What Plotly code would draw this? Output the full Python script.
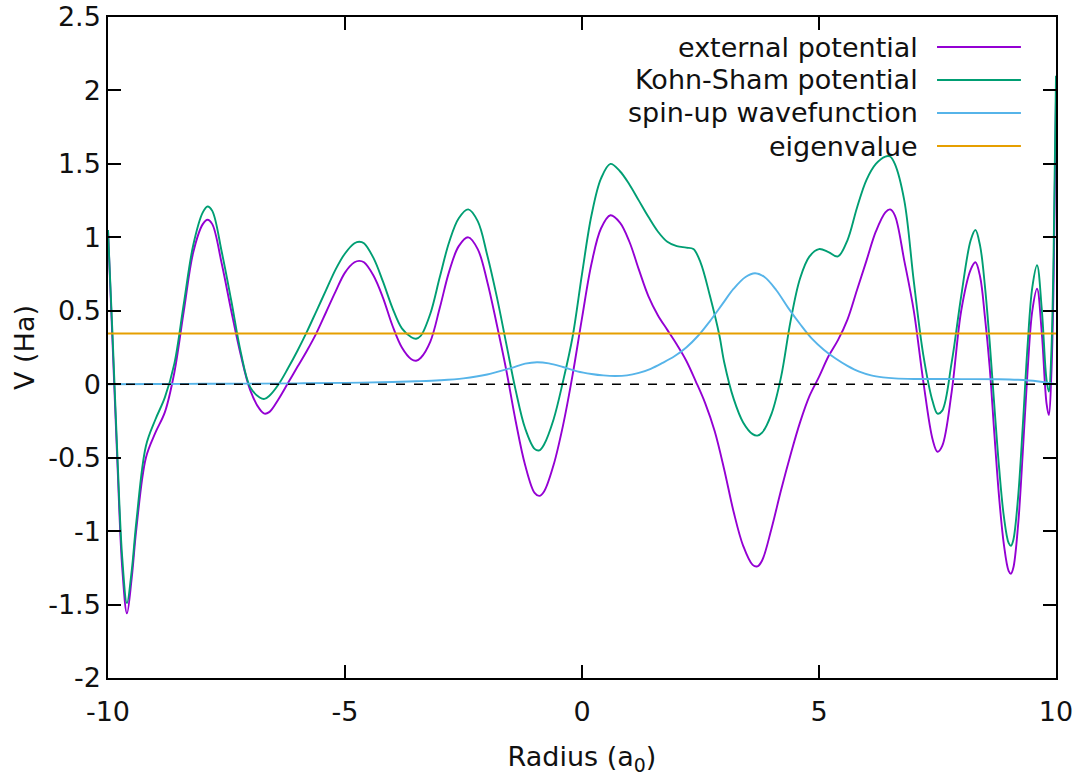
import plotly.graph_objects as go

# ---------------- data ----------------
x_ext = [-10, -9.9, -9.8, -9.7, -9.6, -9.5, -9.4, -9.2, -9.0, -8.8, -8.6, -8.4, -8.2, -8.0, -7.9, -7.8,
         -7.6, -7.4, -7.2, -7.0, -6.8, -6.7, -6.6, -6.4, -6.2, -6.0, -5.8, -5.6, -5.4, -5.2, -5.0, -4.8,
         -4.7, -4.6, -4.4, -4.2, -4.0, -3.8, -3.6, -3.5, -3.4, -3.2, -3.0, -2.8, -2.6, -2.4, -2.2, -2.0,
         -1.8, -1.6, -1.4, -1.2, -1.0, -0.9, -0.8, -0.6, -0.4, -0.2, 0.0, 0.2, 0.4, 0.6, 0.8, 1.0, 1.2,
         1.4, 1.6, 1.8, 2.0, 2.2, 2.4, 2.6, 2.8, 3.0, 3.2, 3.4, 3.6, 3.7, 3.8, 4.0, 4.2, 4.4, 4.6, 4.8,
         5.0, 5.2, 5.4, 5.6, 5.8, 6.0, 6.2, 6.4, 6.5, 6.6, 6.8, 7.0, 7.2, 7.4, 7.5, 7.6, 7.8, 8.0, 8.2,
         8.3, 8.4, 8.5, 8.6, 8.7, 8.8, 8.9, 9.0, 9.05, 9.1, 9.2, 9.3, 9.4, 9.5, 9.6, 9.7, 9.8, 9.85,
         9.9, 9.95, 10]
v_ext = [1.05, 0.25, -0.55, -1.25, -1.56, -1.32, -0.98, -0.5, -0.33, -0.19, 0.08, 0.5, 0.9, 1.09, 1.12, 1.09,
         0.82, 0.5, 0.2, -0.04, -0.17, -0.2, -0.19, -0.1, 0.01, 0.12, 0.23, 0.35, 0.49, 0.63, 0.76, 0.83,
         0.84, 0.83, 0.74, 0.59, 0.4, 0.25, 0.17, 0.16, 0.18, 0.29, 0.52, 0.77, 0.94, 1.0, 0.92, 0.7,
         0.41, 0.1, -0.25, -0.55, -0.74, -0.76, -0.73, -0.55, -0.28, 0.06, 0.45, 0.82, 1.06, 1.15, 1.1, 0.97, 0.78,
         0.6, 0.47, 0.37, 0.27, 0.16, 0.02, -0.13, -0.32, -0.58, -0.87, -1.1, -1.23, -1.24, -1.2, -0.98, -0.72, -0.48, -0.26, -0.08,
         0.05, 0.19, 0.3, 0.44, 0.64, 0.84, 1.04, 1.17, 1.19, 1.15, 0.84, 0.5, 0.02, -0.38, -0.46, -0.42, -0.05, 0.5, 0.78,
         0.83, 0.73, 0.46, 0.12, -0.34, -0.77, -1.09, -1.27, -1.29, -1.25, -0.96, -0.46, 0.09, 0.5, 0.65, 0.35, -0.13, -0.21,
         0.05, 0.7, 1.95]

x_ks = [-10, -9.9, -9.8, -9.7, -9.6, -9.5, -9.4, -9.2, -9.0, -8.8, -8.6, -8.4, -8.2, -8.0, -7.9, -7.8,
        -7.6, -7.4, -7.2, -7.0, -6.8, -6.7, -6.6, -6.4, -6.2, -6.0, -5.8, -5.6, -5.4, -5.2, -5.0, -4.8,
        -4.7, -4.6, -4.4, -4.2, -4.0, -3.8, -3.6, -3.5, -3.4, -3.2, -3.0, -2.8, -2.6, -2.4, -2.2, -2.0,
        -1.8, -1.6, -1.4, -1.2, -1.0, -0.9, -0.8, -0.6, -0.4, -0.2, 0.0, 0.2, 0.4, 0.6, 0.8, 1.0, 1.2,
        1.4, 1.6, 1.8, 2.0, 2.2, 2.35, 2.5, 2.7, 2.9, 3.0, 3.2, 3.4, 3.6, 3.7, 3.8, 4.0, 4.2, 4.4, 4.6,
        4.8, 5.0, 5.2, 5.4, 5.6, 5.8, 6.0, 6.2, 6.4, 6.5, 6.6, 6.8, 7.0, 7.2, 7.4, 7.5, 7.6, 7.8, 8.0,
        8.2, 8.3, 8.4, 8.5, 8.6, 8.7, 8.8, 8.9, 9.0, 9.05, 9.1, 9.2, 9.3, 9.4, 9.5, 9.6, 9.7, 9.8,
        9.85, 9.9, 9.95, 10]
v_ks = [1.05, 0.3, -0.5, -1.18, -1.49, -1.27, -0.93, -0.42, -0.24, -0.09, 0.14, 0.55, 0.95, 1.17, 1.21, 1.18,
        0.9, 0.57, 0.22, -0.02, -0.09, -0.1, -0.08, 0.0, 0.11, 0.23, 0.36, 0.5, 0.64, 0.78, 0.89, 0.96,
        0.97, 0.96, 0.86, 0.7, 0.52, 0.38, 0.32, 0.31, 0.33, 0.48, 0.73, 0.97, 1.13, 1.19, 1.11, 0.88,
        0.6, 0.28, -0.04, -0.3, -0.44, -0.45, -0.41, -0.24, 0.02, 0.32, 0.75, 1.15, 1.4, 1.5, 1.45, 1.36, 1.25,
        1.14, 1.04, 0.97, 0.94, 0.93, 0.92, 0.83, 0.6, 0.33, 0.15, -0.1, -0.26, -0.34, -0.35, -0.33, -0.2, 0.05, 0.43, 0.72,
        0.87, 0.92, 0.9, 0.87, 0.98, 1.2, 1.39, 1.5, 1.55, 1.55, 1.5, 1.25, 0.7, 0.2, -0.12, -0.2, -0.18, 0.15, 0.6,
        0.98, 1.05, 0.94, 0.67, 0.29, -0.15, -0.57, -0.9, -1.08, -1.1, -1.06, -0.77, -0.28, 0.26, 0.66, 0.81, 0.51, 0.03,
        -0.05, 0.2, 0.9, 2.1]

x_wf = [-10, -9, -8, -7, -6, -5, -4, -3.5, -3, -2.5, -2, -1.5, -1.2, -0.95, -0.7, -0.4, -0.1, 0.2, 0.45,
        0.7, 0.95, 1.2, 1.45, 1.7, 1.95, 2.2, 2.45, 2.7, 2.95, 3.2, 3.45, 3.65, 3.85, 4.1, 4.35, 4.6, 4.85,
        5.1, 5.35, 5.6, 5.85, 6.1, 6.35, 6.6, 7, 8, 8.8, 9.2, 9.6, 10]
v_wf = [0.0, 0.002, 0.003, 0.004, 0.006, 0.009, 0.015, 0.02, 0.027, 0.04, 0.066, 0.11, 0.14, 0.15, 0.142,
        0.117, 0.088, 0.07, 0.06, 0.056, 0.06, 0.077, 0.105, 0.145, 0.19, 0.25, 0.33, 0.43, 0.54, 0.65, 0.73,
        0.755, 0.73, 0.64, 0.52, 0.41, 0.31, 0.235, 0.175, 0.125, 0.085, 0.06, 0.047, 0.04, 0.036, 0.035,
        0.034, 0.03, 0.02, 0.0]

x_eig = [-10, 10]
v_eig = [0.345, 0.345]

x_zero = [-10, 10]
v_zero = [0, 0]

series_names = ["external potential", "Kohn-Sham potential", "spin-up wavefunction", "eigenvalue"]
series_colors = ["#9400d3", "#009e73", "#56b4e9", "#e69f00"]

x_tickvals = [-10, -5, 0, 5, 10]
x_ticktext = ["-10", "-5", "0", "5", "10"]
y_tickvals = [-2, -1.5, -1, -0.5, 0, 0.5, 1, 1.5, 2, 2.5]
y_ticktext = ["-2", "-1.5", "-1", "-0.5", "0", "0.5", "1", "1.5", "2", "2.5"]

FONT = "DejaVu Sans"
FS = 27
TXT = "#111111"

fig = go.Figure()
xs = [x_ext, x_ks, x_wf, x_eig]
vs = [v_ext, v_ks, v_wf, v_eig]
for xv, yv, name, col in zip(xs, vs, series_names, series_colors):
    fig.add_trace(go.Scatter(x=xv, y=yv, mode="lines", name=name,
                             line=dict(color=col, width=1.9, shape="spline", smoothing=1.0),
                             showlegend=False, hoverinfo="skip"))

fig.add_trace(go.Scatter(x=x_zero, y=v_zero, mode="lines", showlegend=False,
                         line=dict(color="black", width=1.5, dash="9px,9px"), hoverinfo="skip"))

# gnuplot-style key: text on the left, line sample on the right
row_y = [0.9546, 0.9047, 0.8548, 0.8048]
for name, col, yy in zip(series_names, series_colors, row_y):
    fig.add_annotation(x=0.8565, y=yy, xref="paper", yref="paper", text=name, showarrow=False,
                       xanchor="right", yanchor="middle", font=dict(family=FONT, size=FS, color=TXT))
    fig.add_shape(type="line", xref="paper", yref="paper", x0=0.8745, x1=0.963, y0=yy, y1=yy,
                  line=dict(color=col, width=1.9))

axis_common = dict(showline=True, linecolor="black", linewidth=1.5, mirror="ticks",
                   ticks="inside", ticklen=13, tickwidth=1.5, tickcolor="black",
                   showgrid=False, zeroline=False, automargin=False,
                   tickfont=dict(family=FONT, size=FS, color=TXT))

fig.update_xaxes(range=[-10, 10], tickvals=x_tickvals, ticktext=x_ticktext, ticklabelstandoff=9,
                 title=dict(text="Radius (a<sub>0</sub>)", font=dict(family=FONT, size=FS, color=TXT),
                            standoff=21),
                 **axis_common)
fig.update_yaxes(range=[-2, 2.5], tickvals=y_tickvals, ticktext=y_ticktext,
                 title=dict(text="V (Ha)", font=dict(family=FONT, size=FS, color=TXT), standoff=6),
                 **axis_common)

fig.update_layout(width=1085, height=782, margin=dict(l=108, r=29, t=17, b=104),
                  plot_bgcolor="white", paper_bgcolor="white",
                  font=dict(family=FONT, size=FS, color=TXT))

fig.write_html("out.html")
